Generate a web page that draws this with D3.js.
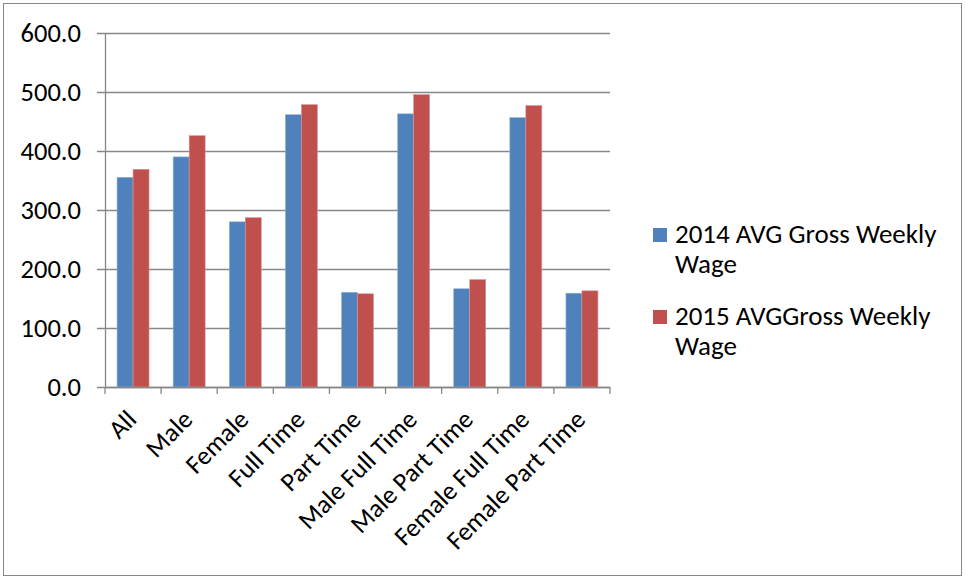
<!DOCTYPE html>
<html><head><meta charset="utf-8">
<script src="https://cdn.jsdelivr.net/npm/d3@7"></script>
<style>body{margin:0;background:#fff}svg{display:block}text{font-family:Carlito,Lato,Calibri,"Open Sans",sans-serif;fill:#000}</style>
</head><body>
<svg id="c" width="966" height="580"></svg>
<script>
const categories = ["All","Male","Female","Full Time","Part Time","Male Full Time","Male Part Time","Female Full Time","Female Part Time"];
const series2014 = [355.5,390,280,461.5,160.5,463,166.5,456.5,159];
const series2015 = [369,426,287,478.5,158,495.5,182,477,163];
const seriesNames = ["2014 AVG Gross Weekly Wage","2015 AVGGross Weekly Wage"];
const seriesColors = ["#4F81BD","#C0504D"];
const yTicks = [0,100,200,300,400,500,600];

const svg = d3.select("#c");
const m = {l:105, r:610, t:33, b:387};
svg.append("rect").attr("x",3.5).attr("y",3.5).attr("width",958).attr("height",572).attr("fill","#fff").attr("stroke","#878787").attr("stroke-width",1);

const x = d3.scaleBand().domain(categories).range([m.l,m.r]).paddingInner(0.43).paddingOuter(0.215);
const y = d3.scaleLinear().domain([0,600]).range([m.b,m.t]);
const xs = d3.scaleBand().domain([0,1]).range([0,x.bandwidth()]);

// gridlines
svg.append("g").selectAll("line").data(yTicks).join("line")
  .attr("x1",m.l-8).attr("x2",m.r).attr("y1",d=>Math.round(y(d))+0.5).attr("y2",d=>Math.round(y(d))+0.5)
  .attr("stroke","#878787").attr("stroke-width",1.3);

// y labels
svg.append("g").selectAll("text").data(yTicks).join("text")
  .attr("x",81).attr("y",d=>y(d)).attr("dy","0.35em").attr("text-anchor","end")
  .style("font-size","26.5px").text(d=>d.toFixed(1));

// bars
const data = categories.map((c,i)=>({c, v:[series2014[i],series2015[i]]}));
const g = svg.append("g").selectAll("g").data(data).join("g").attr("transform",d=>`translate(${x(d.c)},0)`);
g.selectAll("rect").data(d=>d.v.map((v,k)=>({v,k}))).join("rect")
  .attr("x",d=>xs(d.k)).attr("width",xs.bandwidth()).attr("y",d=>y(d.v)).attr("height",d=>y(0)-y(d.v))
  .attr("fill",d=>seriesColors[d.k]).attr("stroke",d=>d.k?"#D99694":"#95B3D7").attr("stroke-width",0.6);

// axes lines
svg.append("line").attr("x1",m.l+0.5).attr("x2",m.l+0.5).attr("y1",m.t).attr("y2",m.b).attr("stroke","#878787").attr("stroke-width",1.3);
svg.append("line").attr("x1",m.l).attr("x2",m.r).attr("y1",m.b+0.5).attr("y2",m.b+0.5).attr("stroke","#878787").attr("stroke-width",1.3);
const step = (m.r-m.l)/categories.length;
svg.append("g").selectAll("line").data(d3.range(categories.length+1)).join("line")
  .attr("x1",i=>m.l+i*step).attr("x2",i=>m.l+i*step).attr("y1",m.b).attr("y2",m.b+7)
  .attr("stroke","#878787").attr("stroke-width",1.3);

// x labels
svg.append("g").selectAll("text").data(categories).join("text")
  .attr("transform",d=>`translate(${x(d)+x.bandwidth()/2+5},${m.b+34}) rotate(-45)`)
  .attr("text-anchor","end").style("font-size","26px").text(d=>d);

// legend
const leg = [{lines:["2014 AVG Gross Weekly","Wage"],y:228},{lines:["2015 AVGGross Weekly","Wage"],y:310}];
leg.forEach((l,i)=>{
  svg.append("rect").attr("x",653).attr("y",l.y).attr("width",14).attr("height",14).attr("fill",seriesColors[i]);
  l.lines.forEach((t,j)=>svg.append("text").attr("x",675).attr("y",l.y+15+j*30).style("font-size","27px").text(t));
});
</script></body></html>
